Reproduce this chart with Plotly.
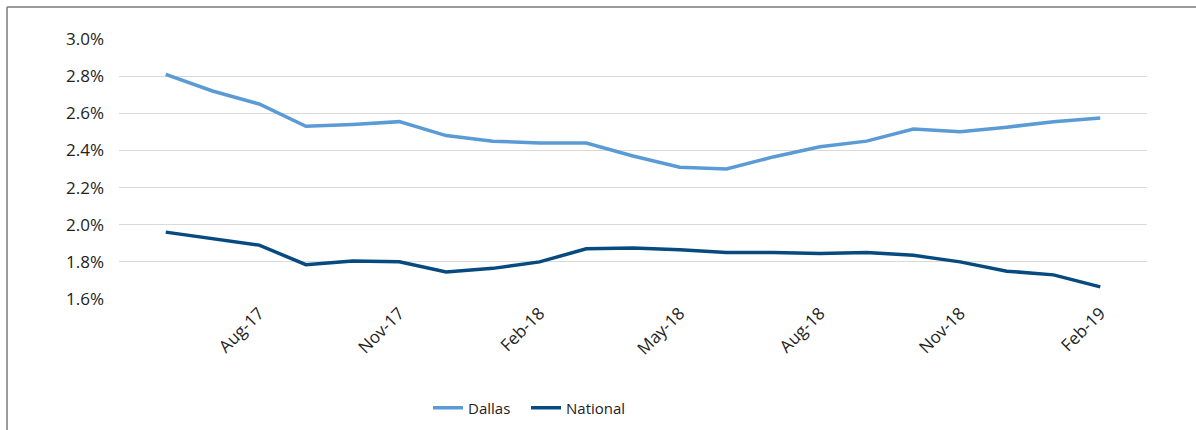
import plotly.graph_objects as go

# Monthly series, Jun-17 through Feb-19
months = ["Jun-17", "Jul-17", "Aug-17", "Sep-17", "Oct-17", "Nov-17", "Dec-17",
          "Jan-18", "Feb-18", "Mar-18", "Apr-18", "May-18", "Jun-18", "Jul-18",
          "Aug-18", "Sep-18", "Oct-18", "Nov-18", "Dec-18", "Jan-19", "Feb-19"]
dallas = [2.81, 2.72, 2.65, 2.53, 2.54, 2.555, 2.48, 2.45, 2.44, 2.44, 2.37,
          2.31, 2.30, 2.365, 2.42, 2.45, 2.515, 2.50, 2.525, 2.555, 2.575]
national = [1.96, 1.925, 1.89, 1.785, 1.805, 1.80, 1.745, 1.765, 1.80, 1.87, 1.875,
            1.865, 1.85, 1.85, 1.845, 1.85, 1.835, 1.80, 1.75, 1.73, 1.665]

tick_labels = ["Aug-17", "Nov-17", "Feb-18", "May-18", "Aug-18", "Nov-18", "Feb-19"]
y_ticks = [1.6, 1.8, 2.0, 2.2, 2.4, 2.6, 2.8, 3.0]

x_idx = list(range(len(months)))
tick_pos = [months.index(t) for t in tick_labels]

FONT = "Open Sans"
TXT = "#222222"
TICK_SIZE = 17

fig = go.Figure()
fig.add_trace(go.Scatter(x=x_idx, y=dallas, mode="lines", name="Dallas",
                         legend="legend",
                         line=dict(color="#5b9bd5", width=3.5),
                         customdata=months, hovertemplate="%{customdata}: %{y:.2f}%"))
fig.add_trace(go.Scatter(x=x_idx, y=national, mode="lines", name="National",
                         legend="legend2",
                         line=dict(color="#064a80", width=3.5),
                         customdata=months, hovertemplate="%{customdata}: %{y:.2f}%"))

W, H = 1196, 430
L, R, T, B = 119, 49, 39, 131
pw, ph = W - L - R, H - T - B

def px_x(px):
    return (px - L) / pw

def px_y(py):
    return (H - B - py) / ph

# Outer frame lines along the top and left edges
frame = dict(color="#7a7a7a", width=1.5)
fig.add_shape(type="line", xref="paper", yref="paper",
              x0=px_x(7), x1=px_x(W + 5), y0=px_y(7), y1=px_y(7), line=frame)
fig.add_shape(type="line", xref="paper", yref="paper",
              x0=px_x(7), x1=px_x(7), y0=px_y(7), y1=px_y(H + 5), line=frame)

legend_style = dict(orientation="h", xanchor="left", yanchor="middle",
                    y=px_y(408), font=dict(family=FONT, size=15, color=TXT),
                    itemwidth=30, bgcolor="rgba(0,0,0,0)")

fig.update_layout(
    width=W, height=H,
    margin=dict(l=L, r=R, t=T, b=B, autoexpand=False),
    paper_bgcolor="white", plot_bgcolor="white",
    font=dict(family=FONT, size=15, color=TXT),
    showlegend=True,
    legend=dict(x=px_x(428), **legend_style),
    legend2=dict(x=px_x(526), **legend_style),
    xaxis=dict(range=[-1, 21], tickmode="array", tickvals=tick_pos,
               ticktext=tick_labels, tickangle=-45, showgrid=False,
               zeroline=False, showline=False, ticks="", automargin=False,
               tickfont=dict(family=FONT, size=TICK_SIZE, color=TXT)),
    yaxis=dict(range=[1.6, 3.0], tickmode="array", tickvals=y_ticks,
               ticktext=[f"{v:.1f}%" for v in y_ticks],
               showgrid=True, gridcolor="#d9d9d9", gridwidth=1,
               zeroline=False, showline=False, ticks="", automargin=False,
               ticklabelstandoff=14,
               tickfont=dict(family=FONT, size=TICK_SIZE, color=TXT)),
)

fig.write_html("out.html")
